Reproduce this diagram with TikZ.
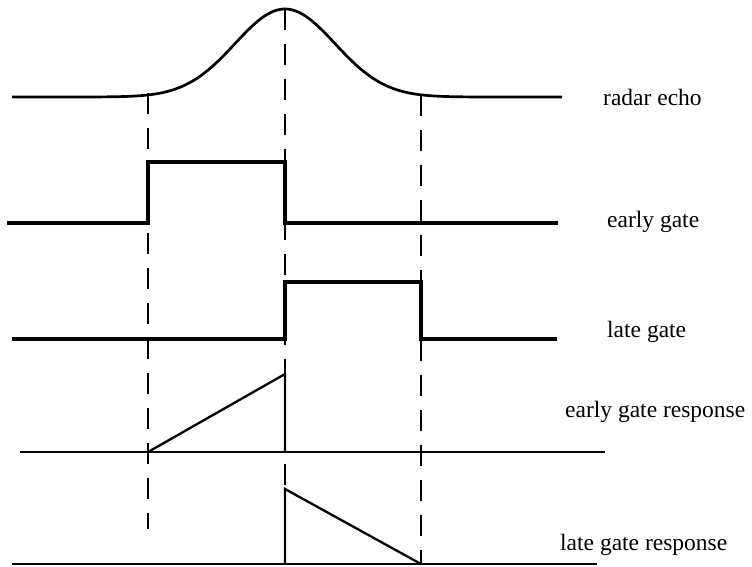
\documentclass[tikz,border=0pt]{standalone}
\usepackage{fontspec}
\setmainfont{Liberation Serif}
\begin{document}
\begin{tikzpicture}[x=1pt,y=-1pt,
  gate/.style={line width=3.3pt, line join=miter},
  resp/.style={line width=2.3pt},
  echo/.style={line width=2.7pt},
  guide/.style={line width=2pt, dash pattern=on 21pt off 14pt},
  lbl/.style={anchor=base west, inner sep=0pt, font=\fontsize{23.5}{28}\selectfont}]
\useasboundingbox (0,0) rectangle (752,566);
% guide lines
\draw[guide] (148,93) -- (148,529);
\draw[guide] (285,9) -- (285,564);
\draw[guide] (421,95) -- (421,564);
% radar echo
\draw[echo, domain=12:562, samples=220, smooth] plot (\x, {97-88*exp(-((\x-285)/50)^2/2)});
% early gate
\draw[gate] (7,223) -- (148,223) -- (148,162) -- (285,162) -- (285,223) -- (558,223);
% late gate
\draw[gate] (12,339) -- (285,339) -- (285,282) -- (421,282) -- (421,339) -- (557,339);
% early gate response
\draw[resp] (20,452) -- (605,452);
\draw[resp] (148,452) -- (285,374) -- (285,452);
% late gate response
\draw[resp] (12,564) -- (597,564);
\draw[resp] (285,564) -- (285,489) -- (421,564);
% labels
\node[lbl] (l1) at (603,105) {radar echo};
\node[lbl] (l2) at (607,227) {early gate};
\node[lbl] (l3) at (607,337) {late gate};
\node[lbl] (l4) at (565,417) {early gate response};
\node[lbl] (l5) at (560,550) {late gate response};
\end{tikzpicture}
\end{document}
